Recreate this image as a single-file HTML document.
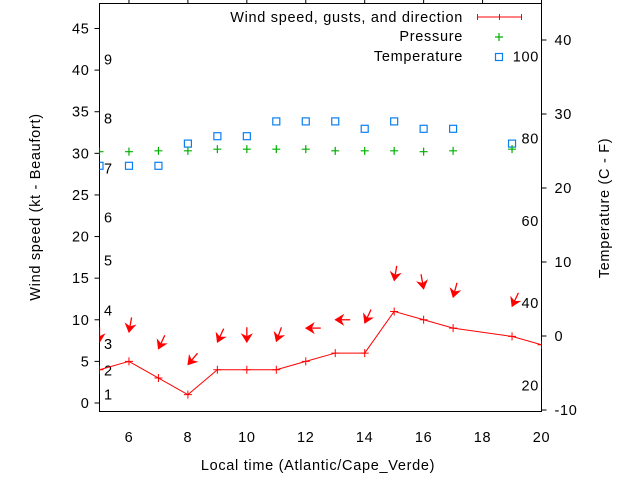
<!DOCTYPE html>
<html><head><meta charset="utf-8">
<style>
html,body{margin:0;padding:0;background:#fff;}
svg{display:block;font-family:"Liberation Sans",sans-serif;}
svg text{letter-spacing:0.7px;}
</style></head>
<body>
<svg id="chart" width="640" height="480" viewBox="0 0 640 480" xmlns="http://www.w3.org/2000/svg"></svg>
<script>
const hours = [5,6,7,8,9,10,11,12,13,14,15,16,17,19,20];
const windSpeed = [4,5,3,1,4,4,4,5,6,6,11,10,9,8,7];
const arrowHours = [5,6,7,8,9,10,11,12,13,14,15,16,17,19];
const gustSpeed = [7.3,8.5,6.5,4.6,7.3,7.3,7.4,9,10,9.6,14.7,13.7,12.7,11.6];
const windFromDeg = [0,10,25,40,25,0,20,90,90,25,10,350,15,25];
const pressureHours = [5,6,7,8,9,10,11,12,13,14,15,16,17,19];
const pressure = [30.2,30.2,30.3,30.3,30.5,30.5,30.5,30.5,30.3,30.3,30.3,30.2,30.3,30.5];
const tempHours = [5,6,7,8,9,10,11,12,13,14,15,16,17,19];
const tempC = [23,23,23,26,27,27,29,29,29,28,29,28,28,26];
const xTicks = [6,8,10,12,14,16,18,20];
const yTicks = [0,5,10,15,20,25,30,35,40,45];
const y2Ticks = [-10,0,10,20,30,40];
const beaufortLabels = ["1","2","3","4","5","6","7","8","9"];
const beaufortKt = [1,3.9,7.1,11.1,17.1,22.3,28.2,34.2,41.3];
const fahrenheitLabels = ["20","40","60","80","100"];
const fahrenheitVals = [20,40,60,80,100];

const L=99.5,R=541.5,T=3.5,B=411.5;
const X=h=>L+(h-5)*(R-L)/15;
const Y=v=>403-v*(403-28.5)/45;
const Y2=c=>336-c*7.4;
const svg=document.getElementById('chart');
const NS='http://www.w3.org/2000/svg';
function mk(tag,attrs,parent){const e=document.createElementNS(NS,tag);for(const k in attrs)e.setAttribute(k,attrs[k]);(parent||svg).appendChild(e);return e;}
function txt(x,y,s,anchor,parent){const t=mk('text',{x:x,y:y,'font-size':'14.5','text-anchor':anchor||'start',fill:'#000'},parent);t.textContent=s;return t;}

const defs=mk('defs',{});
const cp=mk('clipPath',{id:'plotclip'},defs);
mk('rect',{x:L,y:T,width:R-L,height:B-T},cp);

const frame=mk('rect',{x:L,y:T,width:R-L,height:B-T,fill:'none',stroke:'#000','stroke-width':1});



yTicks.forEach(v=>{
  const g=mk('g',{});
  
  
  mk('line',{x1:L-5,x2:L,y1:Y(v),y2:Y(v),stroke:'#000'},g);
  txt(L-10,Y(v)+5,String(v),'end',g);
});
y2Ticks.forEach(v=>{
  const g=mk('g',{});
  
  
  mk('line',{x1:R,x2:R+5,y1:Y2(v),y2:Y2(v),stroke:'#000'},g);
  txt(R+13,Y2(v)+5,String(v),'start',g);
});
xTicks.forEach(v=>{
  const g=mk('g',{});
  
  
  mk('line',{x1:X(v),x2:X(v),y1:0,y2:T,stroke:'#000'},g);
  txt(X(v),442,String(v),'middle',g);
});
beaufortLabels.forEach((s,i)=>{
  const t=txt(104,Y(beaufortKt[i])+5,s,'start');
  
  
});
fahrenheitLabels.forEach((s,i)=>{
  const t=txt(539,Y2((fahrenheitVals[i]-32)*5/9)+5,s,'end');
  
  
});

const plot=mk('g',{'clip-path':'url(#plotclip)'});



tempHours.forEach((h,i)=>{
  const r=mk('rect',{x:X(h)-3.5,y:Y2(tempC[i])-3.5,width:7,height:7,fill:'none',stroke:'#0a7ff0','stroke-width':1.2},plot);
  
  
});
pressureHours.forEach((h,i)=>{
  const x=X(h),y=Y(pressure[i]);
  const p=mk('path',{d:`M${x-4},${y}H${x+4}M${x},${y-4}V${y+4}`,stroke:'#00b000','stroke-width':1.2,fill:'none'},plot);
  
  
});
const line=mk('polyline',{points:hours.map((h,i)=>X(h)+','+Y(windSpeed[i])).join(' '),fill:'none',stroke:'#f00','stroke-width':1},plot);


hours.forEach((h,i)=>{
  const x=X(h),y=Y(windSpeed[i]);
  const p=mk('path',{d:`M${x-4},${y}H${x+4}M${x},${y-4}V${y+4}`,stroke:'#f00','stroke-width':1},plot);
  
  
});
arrowHours.forEach((h,i)=>{
  const x=X(h),y=Y(gustSpeed[i]);
  const a=windFromDeg[i]*Math.PI/180;
  const dx=Math.sin(a),dy=-Math.cos(a);
  const len=15;
  const g=mk('g',{},plot);
  
  
  mk('line',{x1:x,y1:y,x2:x+dx*len,y2:y+dy*len,stroke:'#f00','stroke-width':1.3},g);
  const px=-dy,py=dx;
  const hl=8,hw=5;
  mk('polygon',{points:`${x},${y} ${x+dx*hl+px*hw},${y+dy*hl+py*hw} ${x+dx*hl*0.7},${y+dy*hl*0.7} ${x+dx*hl-px*hw},${y+dy*hl-py*hw}`,fill:'#f00',stroke:'#f00','stroke-width':0.8},g);
});

const lg=mk('g',{});


const e1=mk('g',{},lg);


txt(463,22,'Wind speed, gusts, and direction','end',e1);
mk('path',{d:'M477.5,17H521.5M477.5,14V20M499.5,14V20M521.5,14V20',stroke:'#f00','stroke-width':1},e1);
const e2=mk('g',{},lg);


txt(463,41,'Pressure','end',e2);
mk('path',{d:'M495,37H503M499,33V41',stroke:'#00b000','stroke-width':1.2},e2);
const e3=mk('g',{},lg);


txt(463,61,'Temperature','end',e3);
mk('rect',{x:495.5,y:53.5,width:7,height:7,fill:'none',stroke:'#0a7ff0','stroke-width':1.2},e3);

const xt=txt(318,470,'Local time (Atlantic/Cape_Verde)','middle');


const yt=txt(0,0,'Wind speed (kt - Beaufort)','middle');
yt.setAttribute('transform','translate(40,207) rotate(-90)');


const y2t=txt(0,0,'Temperature (C - F)','middle');
y2t.setAttribute('transform','translate(609,208) rotate(-90)');


</script>
</body></html>
